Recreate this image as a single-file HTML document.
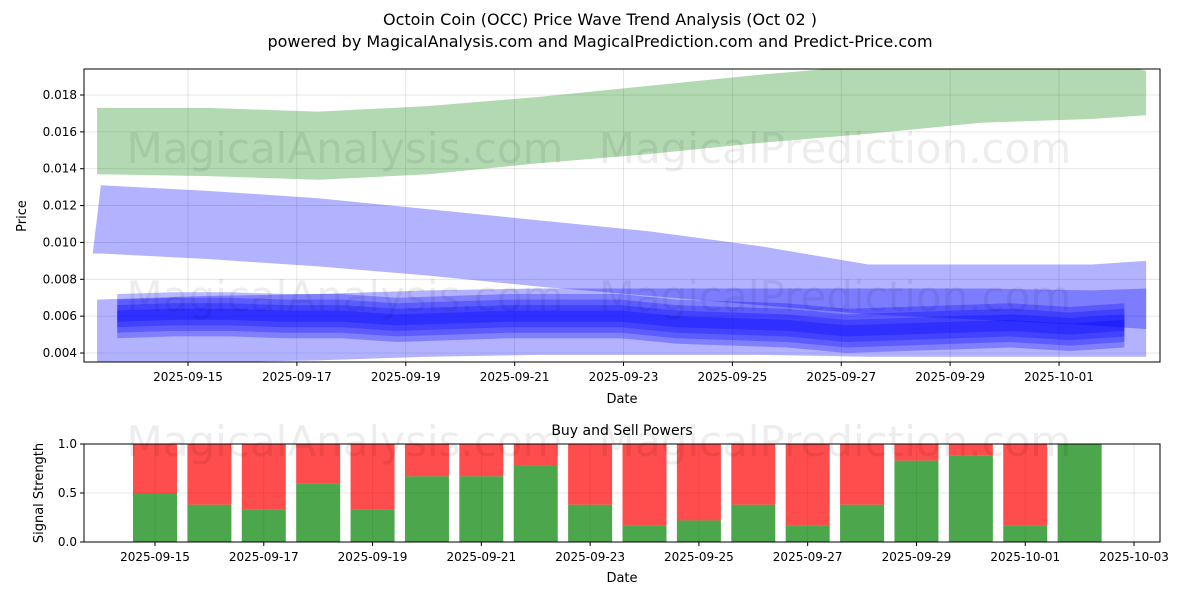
<!DOCTYPE html>
<html><head><meta charset="utf-8"><style>
body{margin:0;background:#fff;font-family:"Liberation Sans","DejaVu Sans",sans-serif}
svg text{font-family:"DejaVu Sans","Liberation Sans",sans-serif}
</style></head><body>
<svg id="c" width="1200" height="600" xmlns="http://www.w3.org/2000/svg">
<text x="600" y="25" font-size="16" text-anchor="middle">Octoin Coin (OCC) Price Wave Trend Analysis (Oct 02 )</text>
<text x="600" y="47" font-size="16" text-anchor="middle">powered by MagicalAnalysis.com and MagicalPrediction.com and Predict-Price.com</text>
<g id="top"></g><g id="bot"></g>
</svg>
<script>
const dayLabels=["2025-09-15","2025-09-17","2025-09-19","2025-09-21","2025-09-23","2025-09-25","2025-09-27","2025-09-29","2025-10-01"];
const priceTicks=[0.004,0.006,0.008,0.010,0.012,0.014,0.016,0.018];
const greenDays=[-1.67,0.36,2.39,4.42,6.45,8.48,10.5,12.5,14.6,16.6,17.6];
const greenUpper=[0.0173,0.0173,0.0171,0.0174,0.0179,0.0185,0.0191,0.0196,0.0198,0.0200,0.0193];
const greenLower=[0.0137,0.0136,0.0134,0.0137,0.0143,0.0148,0.0154,0.0159,0.0165,0.0167,0.0169];
const bigDays=[-1.75,-1.6,0.36,2.39,4.42,6.45,8.48,10.5,12.5,14.6,16.6,17.6];
const bigUpper=[0.0094,0.0131,0.0128,0.0124,0.0118,0.0112,0.0106,0.0098,0.0088,0.0088,0.0088,0.0090];
const bigLower=[0.0094,0.0094,0.0091,0.0087,0.0082,0.0076,0.0071,0.0066,0.0061,0.0058,0.0055,0.0053];
const lowDays=[-1.67,0.36,2.39,4.42,6.45,8.48,10.5,12.5,14.6,16.6,17.6];
const lowUpper=[0.0069,0.0071,0.0072,0.0074,0.0075,0.0075,0.0075,0.0075,0.0075,0.0074,0.0075];
const lowLower=[0.0034,0.0035,0.0036,0.0038,0.0039,0.0039,0.0039,0.0038,0.0038,0.0038,0.0038];
const midDays=[-1.3,-0.27,0.76,1.78,2.81,3.84,4.87,5.89,6.92,7.95,8.98,10.0,11.0,12.1,13.1,14.1,15.1,16.2,17.2];
const midValues=[0.0060,0.0061,0.0061,0.0060,0.0060,0.0058,0.0059,0.0060,0.0060,0.0060,0.0057,0.0056,0.0055,0.0052,0.0053,0.0054,0.0055,0.0053,0.0055];
const midWidths=[0.0003,0.0006,0.0009,0.0012];
const barDays=[0,1,2,3,4,5,6,7,8,9,10,11,12,13,14,15,16,17];
const buyPower=[0.5,0.38,0.33,0.6,0.33,0.67,0.67,0.78,0.38,0.17,0.22,0.38,0.17,0.38,0.83,0.88,0.17,1.0];
const botLabels=["2025-09-15","2025-09-17","2025-09-19","2025-09-21","2025-09-23","2025-09-25","2025-09-27","2025-09-29","2025-10-01","2025-10-03"];
const sigTicks=[0,0.5,1];

const NS="http://www.w3.org/2000/svg";
function mk(p,t,a){const e=document.createElementNS(NS,t);for(const k in a)e.setAttribute(k,a[k]);p.appendChild(e);return e;}
const gTop=document.getElementById('top'),gBot=document.getElementById('bot');
const L=84,R=1160,T=69,B=362;
const xT=d=>188+d*54.44;
const yT=v=>95+(0.018-v)/0.002*36.86;
dayLabels.forEach((s,i)=>{const x=xT(i*2);
 const g=mk(gTop,'line',{x1:x,x2:x,y1:T,y2:B,stroke:'#b0b0b0','stroke-opacity':0.4,'stroke-width':0.8});
 
 mk(gTop,'line',{x1:x,x2:x,y1:B,y2:B+4,stroke:'#000'});
 const t=mk(gTop,'text',{x:x,y:B+19,'font-size':12,'text-anchor':'middle'});t.textContent=s;
 });
priceTicks.forEach(v=>{const y=yT(v);
 const g=mk(gTop,'line',{x1:L,x2:R,y1:y,y2:y,stroke:'#b0b0b0','stroke-opacity':0.4,'stroke-width':0.8});
 
 mk(gTop,'line',{x1:L-4,x2:L,y1:y,y2:y,stroke:'#000'});
 const t=mk(gTop,'text',{x:L-7,y:y+4,'font-size':12,'text-anchor':'end'});t.textContent=v.toFixed(3);
 });
const wm=[[345,163,"MagicalAnalysis.com"],[835,163,"MagicalPrediction.com"],[345,311,"MagicalAnalysis.com"],[835,311,"MagicalPrediction.com"],[345,456,"MagicalAnalysis.com"],[835,456,"MagicalPrediction.com"]];
wm.forEach(w=>{const t=mk(document.getElementById('c'),'text',{x:w[0],y:w[1],'font-size':42,'text-anchor':'middle',fill:'#000','fill-opacity':0.07});t.textContent=w[2];
 });
const clip=mk(gTop,'clipPath',{id:'cp'});mk(clip,'rect',{x:L,y:T,width:R-L,height:B-T});
const pg=mk(gTop,'g',{'clip-path':'url(#cp)'});
function band(days,up,lo,fill,op,name){
 let pts=days.map((d,i)=>xT(d)+','+yT(up[i]));
 pts=pts.concat(days.map((d,i)=>xT(d)+','+yT(lo[i])).reverse());
 const p=mk(pg,'polygon',{points:pts.join(' '),fill:fill,'fill-opacity':op});
 }
band(greenDays,greenUpper,greenLower,'#008000',0.3,'green-band');
band(bigDays,bigUpper,bigLower,'#0000ff',0.3,'upper-blue-band');
band(lowDays,lowUpper,lowLower,'#0000ff',0.3,'lower-blue-band');
midWidths.forEach(w=>band(midDays,midValues.map(v=>v+w),midValues.map(v=>v-w),'#0000ff',0.28,'center-blue-band'));
mk(gTop,'rect',{x:L,y:T,width:R-L,height:B-T,fill:'none',stroke:'#000','stroke-width':1});
let tt=mk(gTop,'text',{x:622,y:403,'font-size':13,'text-anchor':'middle'});tt.textContent='Date';

tt=mk(gTop,'text',{x:26,y:216,'font-size':13,'text-anchor':'middle',transform:'rotate(-90 26 216)'});tt.textContent='Price';

const bT=444,bB=542;
const xB=d=>155+d*54.39;const yB=v=>bB-v*(bB-bT);
botLabels.forEach((s,i)=>{const x=xB(i*2);
 mk(gBot,'line',{x1:x,x2:x,y1:bT,y2:bB,stroke:'#b0b0b0','stroke-opacity':0.4,'stroke-width':0.8});
 mk(gBot,'line',{x1:x,x2:x,y1:bB,y2:bB+4,stroke:'#000'});
 const t=mk(gBot,'text',{x:x,y:bB+19,'font-size':12,'text-anchor':'middle'});t.textContent=s;
 });
sigTicks.forEach(v=>{const y=yB(v);
 mk(gBot,'line',{x1:L,x2:R,y1:y,y2:y,stroke:'#b0b0b0','stroke-opacity':0.4,'stroke-width':0.8});
 mk(gBot,'line',{x1:L-4,x2:L,y1:y,y2:y,stroke:'#000'});
 const t=mk(gBot,'text',{x:L-7,y:y+4,'font-size':12,'text-anchor':'end'});t.textContent=v.toFixed(1);
 });
barDays.forEach((d,i)=>{const x=xB(d)-22,b=buyPower[i];
 const r=mk(gBot,'rect',{x:x,y:yB(1),width:44,height:yB(b)-yB(1),fill:'#ff0000','fill-opacity':0.7});
 
 const g=mk(gBot,'rect',{x:x,y:yB(b),width:44,height:bB-yB(b),fill:'#008000','fill-opacity':0.7});
 });
mk(gBot,'rect',{x:L,y:bT,width:R-L,height:bB-bT,fill:'none',stroke:'#000','stroke-width':1});
tt=mk(gBot,'text',{x:622,y:435,'font-size':14,'text-anchor':'middle'});tt.textContent='Buy and Sell Powers';

tt=mk(gBot,'text',{x:622,y:582,'font-size':13,'text-anchor':'middle'});tt.textContent='Date';

tt=mk(gBot,'text',{x:43,y:493,'font-size':13,'text-anchor':'middle',transform:'rotate(-90 43 493)'});tt.textContent='Signal Strength';

</script>
</body></html>
